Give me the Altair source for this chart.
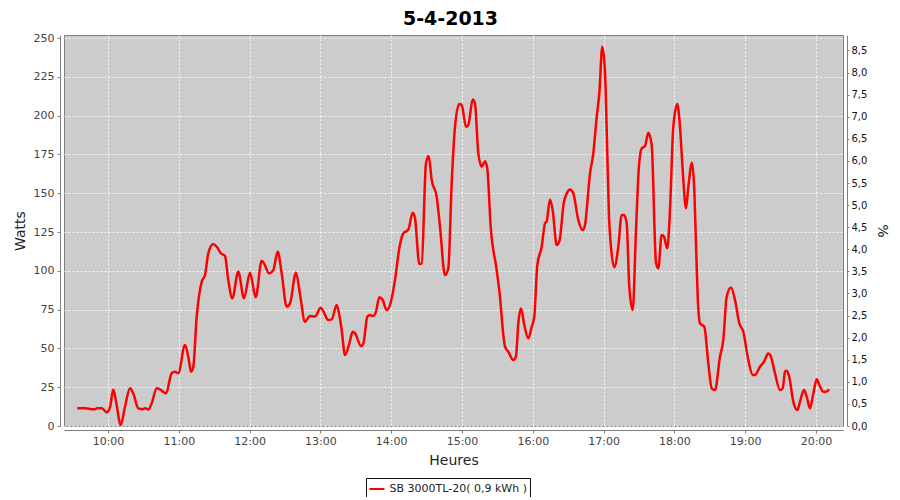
import altair as alt
import pandas as pd

TITLE = "5-4-2013"
SERIES = "SB 3000TL-20( 0,9 kWh )"
DAY = "2013-04-05"

times = [
    "09:33:59", "09:40:31", "09:46:26", "09:48:59", "09:50:41", "09:54:55", "09:58:54",
    "10:01:41", "10:04:29", "10:06:47", "10:10:46", "10:14:25", "10:18:38", "10:21:26",
    "10:25:41", "10:29:25", "10:31:22", "10:34:09", "10:37:02", "10:41:16", "10:44:04",
    "10:49:09", "10:53:59", "10:56:47", "10:59:35", "11:05:15", "11:08:03", "11:10:20",
    "11:12:17", "11:15:10", "11:19:25", "11:22:12", "11:25:00", "11:29:14", "11:32:07",
    "11:35:46", "11:39:09", "11:41:57", "11:45:20", "11:50:25", "11:55:15", "12:00:20",
    "12:05:10", "12:10:15", "12:12:28", "12:16:26", "12:20:05", "12:23:49", "12:27:12",
    "12:31:26", "12:34:14", "12:39:19", "12:42:43", "12:46:57", "12:51:11", "12:55:25",
    "13:00:15", "13:02:28", "13:06:42", "13:09:35", "13:13:49", "13:16:01", "13:18:03",
    "13:20:51", "13:24:29", "13:27:22", "13:29:19", "13:34:25", "13:36:22", "13:39:45",
    "13:42:02", "13:44:50", "13:47:07", "13:49:55", "13:52:48", "13:56:11", "13:58:59",
    "14:03:13", "14:06:52", "14:10:16", "14:14:29", "14:18:13", "14:20:10", "14:23:49",
    "14:25:51", "14:29:29", "14:31:47", "14:34:20", "14:38:34", "14:41:22", "14:45:35",
    "14:48:23", "14:51:16", "14:54:04", "14:57:43", "14:59:45", "15:03:23", "15:05:20",
    "15:09:04", "15:11:01", "15:13:49", "15:16:42", "15:19:29", "15:21:26", "15:24:19",
    "15:29:25", "15:32:12", "15:35:00", "15:36:26", "15:39:14", "15:43:29", "15:45:46",
    "15:47:43", "15:50:00", "15:52:32", "15:56:11", "15:59:04", "16:01:16", "16:03:49",
    "16:07:32", "16:10:20", "16:11:47", "16:14:35", "16:16:52", "16:20:15", "16:22:28",
    "16:26:26", "16:28:44", "16:31:32", "16:34:19", "16:38:34", "16:42:17", "16:44:14",
    "16:48:29", "16:51:17", "16:54:10", "16:56:22", "16:58:54", "17:01:11", "17:02:38",
    "17:04:35", "17:06:01", "17:09:04", "17:12:28", "17:15:20", "17:17:17", "17:19:35",
    "17:21:47", "17:24:40", "17:27:28", "17:29:45", "17:32:17", "17:35:05", "17:37:53",
    "17:40:46", "17:44:25", "17:46:22", "17:49:14", "17:51:11", "17:53:59", "17:56:16",
    "17:59:04", "18:02:28", "18:04:45", "18:07:02", "18:09:50", "18:11:47", "18:14:55",
    "18:16:52", "18:18:18", "18:19:45", "18:21:41", "18:25:20", "18:28:44", "18:31:37",
    "18:34:25", "18:38:38", "18:41:26", "18:44:19", "18:47:58", "18:51:22", "18:55:00",
    "18:58:23", "19:02:38", "19:06:22", "19:08:19", "19:12:32", "19:15:56", "19:19:35",
    "19:21:37", "19:25:15", "19:29:29", "19:31:47", "19:33:44", "19:35:10", "19:37:22",
    "19:40:46", "19:44:09", "19:46:26", "19:49:50", "19:52:07", "19:54:55", "19:57:43",
    "20:00:35", "20:02:48", "20:06:11", "20:08:28", "20:11:16",
]

watts = [
    11.4, 11.4, 10.8, 10.8, 11.4, 11.4, 8.8,
    12.0, 23.6, 16.0, 0.6, 12.4, 24.3, 21.0,
    11.4, 10.8, 11.4, 10.6, 14.6, 24.3, 23.6,
    21.0, 34.0, 35.0, 34.0, 52.2, 44.7, 35.0,
    38.2, 70.4, 93.0, 97.3, 111.3, 117.3, 115.5,
    111.3, 109.5, 94.0, 82.3, 99.4, 82.3, 98.8,
    82.9, 106.5, 104.5, 98.4, 100.5, 112.3, 98.4,
    76.9, 79.0, 98.8, 85.0, 67.2, 70.9, 70.5,
    76.2, 74.0, 68.3, 68.7, 78.0, 71.5, 61.9,
    45.7, 53.0, 60.8, 59.8, 51.5, 53.0, 70.4,
    71.5, 70.9, 73.7, 82.9, 81.2, 74.7, 77.9,
    94.0, 114.5, 124.2, 126.5, 137.4, 134.0, 104.4,
    104.8, 169.3, 174.0, 158.5, 147.7, 128.4, 97.3,
    101.6, 156.4, 192.8, 207.5, 206.9, 192.8, 193.9,
    210.5, 208.0, 175.7, 167.1, 170.7, 166.0, 128.4,
    100.5, 83.3, 59.0, 51.1, 47.9, 42.5, 45.0,
    66.2, 75.8, 66.2, 56.5, 63.9, 70.4, 103.7,
    115.5, 130.6, 132.0, 146.0, 139.0, 116.6, 118.8,
    144.5, 149.8, 152.5, 150.0, 132.7, 126.3, 129.6,
    162.8, 175.7, 199.3, 214.4, 244.4, 228.3, 190.7,
    134.9, 117.7, 102.3, 115.5, 136.0, 136.0, 130.6,
    89.8, 74.7, 126.3, 165.0, 178.9, 180.4, 189.0,
    181.0, 105.2, 101.6, 123.1, 122.0, 114.5, 139.2,
    192.8, 207.5, 192.8, 165.0, 140.3, 154.0, 169.7,
    152.0, 117.7, 83.3, 66.2, 64.0, 40.4, 24.3,
    23.2, 44.7, 55.4, 83.3, 89.3, 81.2, 66.2,
    60.8, 42.5, 32.9, 32.9, 38.2, 41.4, 46.8,
    45.1, 34.0, 23.2, 24.3, 35.0, 35.6, 31.5,
    15.7, 10.3, 15.7, 23.2, 18.9, 11.4, 20.8,
    30.1, 26.5, 22.1, 22.1, 23.6,
]

watt_ticks = [0, 25, 50, 75, 100, 125, 150, 175, 200, 225, 250]
pct_ticks = [0.0, 0.5, 1.0, 1.5, 2.0, 2.5, 3.0, 3.5, 4.0, 4.5, 5.0, 5.5,
             6.0, 6.5, 7.0, 7.5, 8.0, 8.5]
hour_ticks = [10, 11, 12, 13, 14, 15, 16, 17, 18, 19, 20]

W_MAX = 252.0
P_MAX = 8.85

df = pd.DataFrame({
    "time": [DAY + "T" + t for t in times],
    "watts": watts,
    "serie": [SERIES] * len(times),
})

def dt(h, m=0, s=0):
    return alt.DateTime(year=2013, month=4, date=5, hours=h, minutes=m, seconds=s)

x_enc = alt.X(
    "time:T",
    scale=alt.Scale(domain=[dt(9, 22, 43), dt(20, 22, 53)]),
    axis=alt.Axis(
        title="Heures", values=[dt(h) for h in hour_ticks], format="%H:%M",
        offset=4, tickSize=3, labelPadding=2, titlePadding=7,
        labelFontSize=11, titleFontSize=14, labelFlush=False,
    ),
)

base = alt.Chart(df)

line = base.mark_line(color="#FF0000", strokeWidth=2.5, clip=True,
                      interpolate="monotone").encode(
    x=x_enc,
    y=alt.Y(
        "watts:Q",
        scale=alt.Scale(domain=[0, W_MAX], nice=False, zero=True),
        axis=alt.Axis(
            title="Watts", values=watt_ticks, offset=4, tickSize=3,
            labelPadding=3, titlePadding=6, labelFontSize=11, titleFontSize=14,
        ),
    ),
    color=alt.Color(
        "serie:N",
        scale=alt.Scale(domain=[SERIES], range=["#FF0000"]),
        legend=alt.Legend(
            title=None, orient="none", legendX=302, legendY=443,
            direction="horizontal", symbolType="stroke", symbolStrokeWidth=2,
            symbolSize=225, labelFontSize=11, labelColor="#222222",
            strokeColor="#111111", fillColor="#FFFFFF", padding=2.5,
            labelOffset=4, labelFont="DejaVu Sans",
        ),
    ),
)

right = base.transform_calculate(
    pct="datum.watts * %f / %f" % (P_MAX, W_MAX)
).mark_line(strokeOpacity=0).encode(
    x=x_enc,
    y=alt.Y(
        "pct:Q",
        scale=alt.Scale(domain=[0, P_MAX], nice=False, zero=True),
        axis=alt.Axis(
            title="%", orient="right", values=pct_ticks, grid=False,
            labelExpr="replace(format(datum.value, '.1f'), '.', ',')",
            offset=4, tickSize=2, labelPadding=2, titlePadding=8,
            labelFontSize=10, labelColor="#111111", titleFontSize=14,
        ),
    ),
)

chart = alt.layer(line, right).resolve_scale(y="independent").properties(
    width=779,
    height=391,
    autosize=alt.AutoSizeParams(type="none"),
    padding={"left": 56, "top": 27, "right": 49, "bottom": 71},
    title=alt.Title(TITLE, fontSize=19, fontWeight="bold", font="DejaVu Sans",
                    color="#000000", offset=3, dx=-3),
).configure_view(
    fill="#CCCCCC", stroke="#808080", strokeWidth=1,
).configure_axis(
    labelFont="DejaVu Sans", titleFont="DejaVu Sans",
    labelColor="#444444", titleColor="#222222", titleFontWeight="normal",
    domainColor="#808080", tickColor="#808080",
    gridColor="#FFFFFF", gridDash=[2, 2], gridWidth=1, gridOpacity=0.85,
)

chart.save("out.html", embed_options={"renderer": "svg", "actions": False})
